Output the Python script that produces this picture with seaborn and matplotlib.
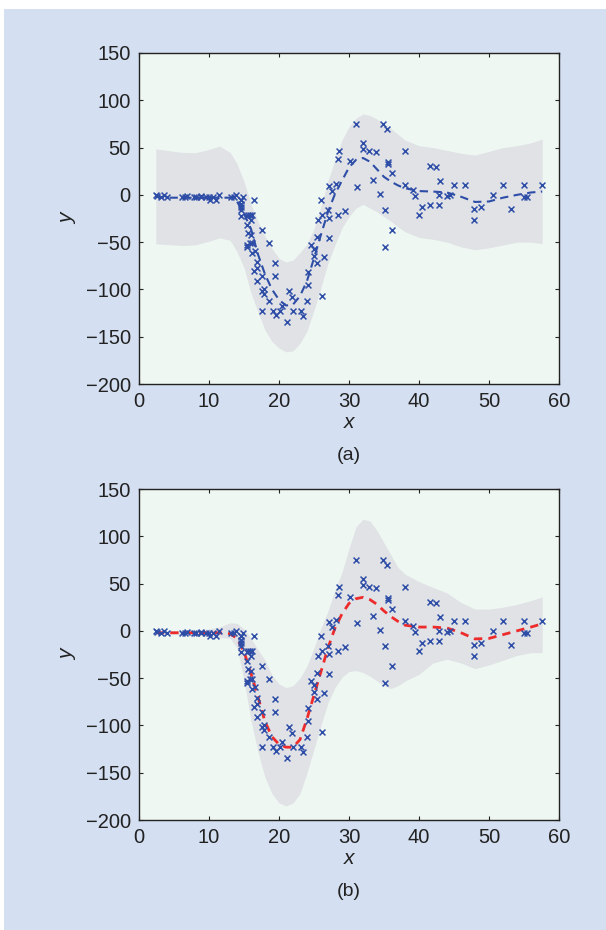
import numpy as np
import pandas as pd
import matplotlib
matplotlib.use("Agg")
import matplotlib.pyplot as plt
from matplotlib.patches import Rectangle
import seaborn as sns

# motorcycle crash data (time in ms, head acceleration)
times = [2.4, 2.6, 3.2, 3.6, 4.0, 6.2, 6.6, 6.8, 7.8, 8.2,
         8.8, 8.8, 9.6, 10.0, 10.2, 10.6, 11.0, 11.4, 13.2, 13.6,
         13.8, 14.6, 14.6, 14.6, 14.6, 14.6, 14.6, 14.8, 15.4, 15.4,
         15.4, 15.4, 15.6, 15.6, 15.8, 15.8, 16.0, 16.0, 16.2, 16.2,
         16.2, 16.4, 16.4, 16.6, 16.8, 16.8, 16.8, 17.6, 17.6, 17.6,
         17.6, 17.8, 17.8, 18.6, 18.6, 19.2, 19.4, 19.4, 19.6, 20.2,
         20.4, 21.2, 21.4, 21.8, 22.0, 23.2, 23.4, 24.0, 24.2, 24.2,
         24.6, 25.0, 25.0, 25.4, 25.4, 25.6, 26.0, 26.2, 26.2, 26.4,
         27.0, 27.2, 27.2, 27.2, 27.6, 28.2, 28.4, 28.4, 28.6, 29.4,
         30.2, 31.0, 31.2, 32.0, 32.0, 32.8, 33.4, 33.8, 34.4, 34.8,
         35.2, 35.2, 35.4, 35.6, 35.6, 36.2, 36.2, 38.0, 38.0, 39.2,
         39.4, 40.0, 40.4, 41.6, 41.6, 42.4, 42.8, 42.8, 43.0, 44.0,
         44.4, 45.0, 46.6, 47.8, 47.8, 48.8, 50.6, 52.0, 53.2, 55.0,
         55.0, 55.4, 57.6]
accel = [0.0, -1.3, -2.7, 0.0, -2.7, -2.7, -2.7, -1.3, -2.7, -2.7,
         -1.3, -2.7, -2.7, -2.7, -5.4, -2.7, -5.4, 0.0, -2.7, -2.7,
         0.0, -13.3, -5.4, -5.4, -9.3, -16.0, -22.8, -2.7, -22.8, -32.1,
         -53.5, -54.9, -40.2, -21.5, -21.5, -50.8, -42.9, -26.8, -21.5, -50.8,
         -61.7, -5.4, -80.4, -59.0, -71.0, -91.1, -77.7, -37.5, -85.6, -123.1,
         -101.9, -99.1, -104.4, -112.5, -50.8, -123.1, -85.6, -72.3, -127.2, -123.1,
         -117.9, -134.0, -101.9, -108.4, -123.1, -123.1, -128.5, -112.5, -95.1, -81.8,
         -53.5, -64.4, -57.6, -72.3, -44.3, -26.8, -5.4, -107.1, -21.5, -65.6,
         -16.0, -45.6, -24.2, 9.5, 4.0, 12.0, -21.5, 37.5, 46.9, -17.4,
         36.2, 75.0, 8.1, 54.9, 48.2, 46.9, 16.0, 45.6, 1.3, 75.0,
         -16.0, -54.9, 69.6, 34.8, 32.1, -37.5, 22.8, 46.9, 10.7, 5.4,
         -1.3, -21.5, -13.3, 30.8, -10.7, 29.4, 0.0, -10.7, 14.7, -1.3,
         0.0, 10.7, 10.7, -26.8, -14.7, -13.3, 0.0, 10.7, -14.7, -2.7,
         10.7, -2.7, 10.7]

# fitted curves
grid_x = [2.4, 4, 6, 8, 10, 11.5, 13, 14, 15, 16, 17, 18, 19, 20, 21, 22, 23, 24, 25,
          26, 27, 28, 29, 30, 31, 32, 33, 34, 35, 36, 37, 38, 40, 42, 44, 46, 48, 50,
          52, 54, 56, 57.6]

# (a) standard GP
mean_a = [-2, -3, -3, -3, -3, -3, -3, -7, -20, -36, -63, -84, -100, -111, -117, -116,
          -107, -91, -67, -42, -18, 1, 15, 29, 37, 39, 35, 27, 19, 14, 10, 7, 4, 3.5,
          2.5, -2, -7.5, -7, -3, 0, 2.5, 3.5]
upper_a = [48.6, 47, 45, 44.5, 48, 51.5, 45, 33, 14, -10, -28, -44, -57, -67, -71, -69,
           -61, -52, -36, -12, 15, 37, 58, 72, 81, 85.5, 84, 80, 75, 70, 64, 58, 52, 50,
           47, 44, 42, 46, 50, 52, 55, 59]
lower_a = [-51.7, -52.5, -53.5, -53, -49, -45.5, -48, -60, -77, -104, -124, -143, -155,
           -162, -166, -165, -157, -144, -122, -98, -72, -53, -35, -23, -14, -10, -14,
           -18, -23, -28, -34, -39, -45, -47, -50, -55, -58, -56, -53, -50, -50, -51.7]

# (b) heteroscedastic GP
mean_b = [-2, -2, -2, -2, -2, -2, -3, -8, -22, -45, -70, -96, -112, -120, -123, -123,
          -115, -93, -68, -43, -18, 3, 18, 29, 34, 35.5, 33, 28, 21, 15, 10, 6, 4, 4, 3,
          -2, -8.5, -8, -4, 0, 4, 7.5]
upper_b = [0, 0, 0, 1, 2, 4, 8.5, 8, 2, -8, -20, -31, -47, -56, -60, -58, -50, -37, -18,
           3, 21, 43, 62, 87, 110, 118, 116, 106, 93, 80, 67, 60, 52, 46, 40, 30, 23, 23,
           25, 28, 32, 36]
lower_b = [-4, -4, -4, -5, -6, -7, -8, -18, -52, -95, -128, -155, -172, -182, -185, -182,
           -172, -150, -125, -100, -76, -60, -49, -43, -42, -44, -48, -53, -58, -61, -58,
           -53, -46, -34, -30, -34, -40, -36, -31, -26, -23, -23]

pts = pd.DataFrame({"x": times, "y": accel})
fits = pd.DataFrame({"x": grid_x, "mean_a": mean_a, "upper_a": upper_a, "lower_a": lower_a,
                     "mean_b": mean_b, "upper_b": upper_b, "lower_b": lower_b})

sns.set_style("ticks")
plt.rcParams["font.family"] = ["Liberation Sans", "DejaVu Sans"]
plt.rcParams["axes.unicode_minus"] = True

fig = plt.figure(figsize=(6.06, 9.3), dpi=100, facecolor="white")
fig.patches.append(Rectangle((4 / 606, 0), 1, 1 - 9 / 930, transform=fig.transFigure,
                             facecolor="#D4DFF1", edgecolor="none", zorder=-10))

ax_a = fig.add_axes([139 / 606, 1 - 384 / 930, 420 / 606, 331 / 930])
ax_b = fig.add_axes([139 / 606, 1 - 820 / 930, 420 / 606, 331 / 930])

panels = [(ax_a, "a", "#2E4DA7", 1.5, (4, 2.6), "(a)"),
          (ax_b, "b", "#EE2B2B", 2.0, (3, 2.2), "(b)")]

for ax, key, lcol, lw, dash, tag in panels:
    ax.set_facecolor("#EEF7F2")
    ax.fill_between(fits["x"], fits["lower_" + key], fits["upper_" + key],
                    color="#E0E2E6", linewidth=0, zorder=1)
    sns.lineplot(data=fits, x="x", y="mean_" + key, ax=ax, color=lcol, linewidth=lw,
                 dashes=False, zorder=3)
    ax.lines[-1].set_dashes(dash)
    sns.scatterplot(data=pts, x="x", y="y", ax=ax, marker="x", color="#2E4DA7",
                    s=18, linewidth=1.1, zorder=4)
    ax.set_xlim(0, 60)
    ax.set_ylim(-200, 150)
    ax.set_xticks(range(0, 61, 10))
    ax.set_yticks(range(-200, 151, 50))
    ax.tick_params(direction="in", length=3, width=0.8, top=True, right=True,
                   labelsize=14.5, colors="#222222", pad=6)
    for sp in ax.spines.values():
        sp.set_visible(True)
        sp.set_linewidth(1.0)
        sp.set_color("#222222")
    ax.set_xlabel("x", fontsize=15, style="italic", labelpad=1, color="#222222")
    ax.set_ylabel("y", fontsize=15, style="italic", labelpad=6, color="#222222")
    ax.text(0.5, -0.215, tag, transform=ax.transAxes, ha="center", va="center",
            fontsize=14, color="#222222")

fig.savefig("out.png", dpi=100, facecolor=fig.get_facecolor())
